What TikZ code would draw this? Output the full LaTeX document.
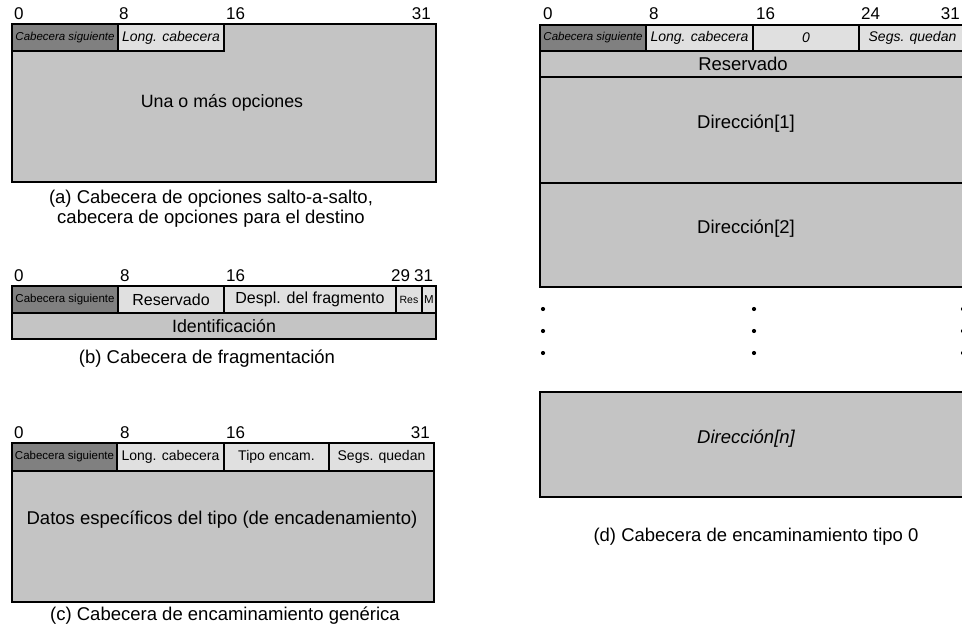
\documentclass[tikz,border=0pt]{standalone}
\usepackage{fontspec}
\setmainfont{Liberation Sans}
\newcommand\fsz[1]{\fontsize{#1}{#1}\selectfont}
% style, name, x1, y1, x2, y2, text
\newcommand\fld[7]{\node[#1, minimum width={#5-#3}, minimum height={#6-#4}] (#2) at ({(#3+#5)/2},{(#4+#6)/2}) {#7};}
\begin{document}
\begin{tikzpicture}[x=1pt,y=-1pt,
  fieldbox/.style={draw=black, line width=1.3pt, inner sep=0pt, outer sep=0pt, rectangle},
  darkf/.style={fieldbox, fill=black!50},
  lightf/.style={fieldbox, fill=black!12},
  midf/.style={fieldbox, fill=black!23},
  frame/.style={draw=black, line width=2.2pt},
  bitlbl/.style={font=\fsz{17}, inner sep=0pt},
  bigtext/.style={font=\fsz{17.8}, inner sep=0pt},
  captext/.style={font=\fontsize{18.5}{20}\selectfont, align=center, inner sep=0pt},
  dotn/.style={circle, fill=black, inner sep=0pt, minimum size=4.2pt}]
\useasboundingbox (0,0) rectangle (962,631);
\clip (0,0) rectangle (962,631);
\fill[white] (0,0) rectangle (962,631);

% ---------------- (a) ----------------
\node[bitlbl, anchor=west] (aL0) at (14,14) {0};
\node[bitlbl, anchor=west] (aL8) at (119,14) {8};
\node[bitlbl, anchor=west] (aL16) at (226,14) {16};
\node[bitlbl, anchor=east] (aL31) at (431,14) {31};
\fld{midf}{aBody}{12}{24}{436}{182}{}
\fld{darkf}{aNext}{12}{24}{118}{51}{\fsz{11.5}\itshape Cabecera siguiente}
\fld{lightf}{aLong}{118}{24}{224}{51}{\fsz{14}\itshape Long. cabecera}
\draw[frame] (aBody.north west) rectangle (aBody.south east);
\node[bigtext] (aText) at (222,103) {Una o más opciones};
\node[captext] (aCap) at (211,209) {(a) Cabecera de opciones salto-a-salto,\\cabecera de opciones para el destino};

% ---------------- (b) ----------------
\node[bitlbl, anchor=west] (bL0) at (14,276) {0};
\node[bitlbl, anchor=west] (bL8) at (120,276) {8};
\node[bitlbl, anchor=west] (bL16) at (226,276) {16};
\node[bitlbl, anchor=west] (bL29) at (391,276) {29};
\node[bitlbl, anchor=west] (bL31) at (414,276) {31};
\fld{darkf}{bNext}{12}{286}{118}{313}{\fsz{11.5}Cabecera siguiente}
\fld{lightf}{bRsv}{118}{286}{224}{313}{\fsz{16}Reservado}
\fld{lightf}{bDesp}{224}{286}{396}{313}{\fsz{16}Despl. del fragmento}
\fld{lightf}{bRes}{396}{286}{422}{313}{\fsz{10.5}Res}
\fld{lightf}{bM}{422}{286}{436}{313}{\fsz{11.5}M}
\fld{midf}{bId}{12}{313}{436}{339}{\fsz{17.8}Identificación}
\draw[frame] (bNext.north west) rectangle (bId.south east);
\node[captext] (bCap) at (207,359) {(b) Cabecera de fragmentación};

% ---------------- (c) ----------------
\node[bitlbl, anchor=west] (cL0) at (14,433) {0};
\node[bitlbl, anchor=west] (cL8) at (120,433) {8};
\node[bitlbl, anchor=west] (cL16) at (226,433) {16};
\node[bitlbl, anchor=east] (cL31) at (430,433) {31};
\fld{midf}{cBody}{12}{443}{434}{602}{}
\fld{darkf}{cNext}{12}{443}{117}{471}{\fsz{11.5}Cabecera siguiente}
\fld{lightf}{cLong}{117}{443}{224}{471}{\fsz{14}Long. cabecera}
\fld{lightf}{cTipo}{224}{443}{329}{471}{\fsz{14}Tipo encam.}
\fld{lightf}{cSegs}{329}{443}{434}{471}{\fsz{14}Segs. quedan}
\draw[frame] (cBody.north west) rectangle (cBody.south east);
\node[bigtext, font=\fsz{18.5}] (cText) at (222,520) {Datos específicos del tipo (de encadenamiento)};
\node[captext] (cCap) at (225,616) {(c) Cabecera de encaminamiento genérica};

% ---------------- (d) ----------------
\node[bitlbl, anchor=west] (dL0) at (543,14) {0};
\node[bitlbl, anchor=west] (dL8) at (649,14) {8};
\node[bitlbl, anchor=west] (dL16) at (756,14) {16};
\node[bitlbl, anchor=west] (dL24) at (861,14) {24};
\node[bitlbl, anchor=east] (dL31) at (960,14) {31};
\fld{darkf}{dNext}{540}{25}{646}{51}{\fsz{11.5}\itshape Cabecera siguiente}
\fld{lightf}{dLong}{646}{25}{753}{51}{\fsz{14}\itshape Long. cabecera}
\fld{lightf}{dZero}{753}{25}{859}{51}{\fsz{14}\itshape 0}
\fld{lightf}{dSegs}{859}{25}{966}{51}{\fsz{14}\itshape Segs. quedan}
\fld{midf}{dRsv}{540}{51}{966}{77}{}
\fld{midf}{dA1}{540}{77}{966}{183}{}
\fld{midf}{dA2}{540}{183}{966}{287}{}
\draw[frame] (dNext.north west) rectangle (dA2.south east);
\draw[frame] (dA1.south west) -- (dA1.south east);
\node[bigtext, font=\fsz{18.5}] (dRsvT) at (743,64) {Reservado};
\node[bigtext, font=\fsz{18.5}] (dA1T) at (746,124) {Dirección[1]};
\node[bigtext, font=\fsz{18.5}] (dA2T) at (746,229) {Dirección[2]};
\foreach \yy [count=\k] in {309,331,353}{
  \node[dotn] (dotL\k) at (543,\yy) {};
  \node[dotn] (dotM\k) at (754,\yy) {};
  \node[dotn] (dotR\k) at (963,\yy) {};
}
\fld{midf}{dAn}{540}{392}{966}{497}{}
\draw[frame] (dAn.north west) rectangle (dAn.south east);
\node[bigtext, font=\fsz{18.5}] (dAnT) at (746,439) {\itshape Dirección[n]};
\node[captext] (dCap) at (756,537) {(d) Cabecera de encaminamiento tipo 0};
\end{tikzpicture}
\end{document}
